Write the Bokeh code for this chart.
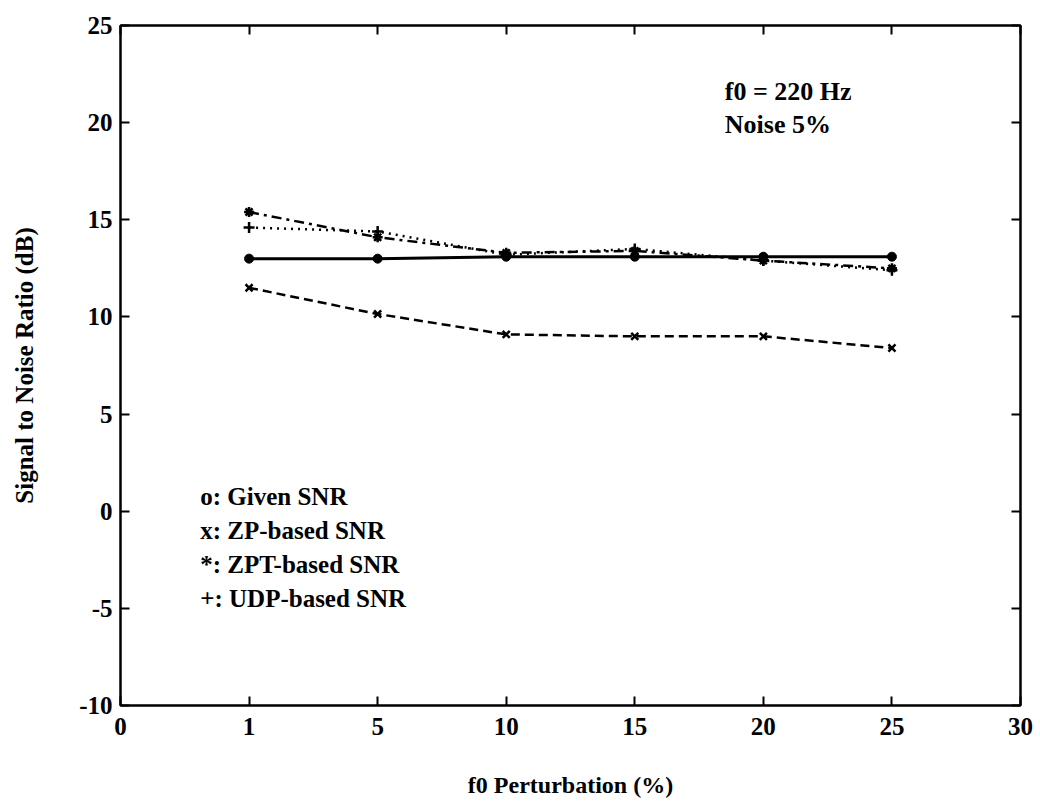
from bokeh.plotting import figure
from bokeh.models import Range1d, FixedTicker, LinearAxis, Label
from bokeh.embed import file_html
from bokeh.resources import INLINE

# ---- data ----
x_tick_labels = ["0", "1", "5", "10", "15", "20", "25", "30"]
y_ticks = [-10, -5, 0, 5, 10, 15, 20, 25]
y_tick_labels = ["-10", "-5", "0", "5", "10", "15", "20", "25"]
perturbation = ["1", "5", "10", "15", "20", "25"]
given_snr = [13.0, 13.0, 13.1, 13.1, 13.1, 13.1]
zp_snr = [11.5, 10.15, 9.1, 9.0, 9.0, 8.4]
zpt_snr = [15.4, 14.1, 13.3, 13.4, 12.9, 12.5]
udp_snr = [14.6, 14.4, 13.2, 13.5, 12.9, 12.4]
legend_lines = ["o: Given SNR", "x: ZP-based SNR", "*: ZPT-based SNR", "+: UDP-based SNR"]
annotation_lines = ["f0 = 220 Hz", "Noise 5%"]
x_title = "f0 Perturbation (%)"
y_title = "Signal to Noise Ratio (dB)"

FONT = "Liberation Serif"

x_pos = [x_tick_labels.index(c) for c in perturbation]

p = figure(width=1040, height=804,
           x_range=Range1d(0, len(x_tick_labels) - 1), y_range=Range1d(-10, 25),
           output_backend="svg", toolbar_location=None,
           min_border_left=120, min_border_right=20, min_border_top=25, min_border_bottom=99)
p.background_fill_color = "white"
p.border_fill_color = "white"
p.outline_line_color = "black"
p.outline_line_width = 2
p.xgrid.visible = False
p.ygrid.visible = False

xt = FixedTicker(ticks=list(range(len(x_tick_labels))))
yt = FixedTicker(ticks=y_ticks)


def style_axis(ax, title_size="24px"):
    ax.axis_line_width = 2
    ax.axis_line_color = "black"
    ax.major_tick_in = 9
    ax.major_tick_out = 0
    ax.major_tick_line_width = 2
    ax.minor_tick_in = 0
    ax.minor_tick_out = 0
    ax.major_label_text_font = FONT
    ax.major_label_text_font_size = "25px"
    ax.major_label_text_font_style = "bold"
    ax.major_label_text_color = "black"
    ax.axis_label_text_font = FONT
    ax.axis_label_text_font_size = title_size
    ax.axis_label_text_font_style = "bold"
    ax.axis_label_text_color = "black"


xa = p.xaxis[0]
xa.ticker = xt
xa.major_label_overrides = {i: lab for i, lab in enumerate(x_tick_labels)}
xa.axis_label = x_title
style_axis(xa, "24px")
xa.major_label_standoff = 12
xa.axis_label_standoff = 34

ya = p.yaxis[0]
ya.ticker = yt
ya.major_label_overrides = {t: lab for t, lab in zip(y_ticks, y_tick_labels)}
ya.axis_label = y_title
style_axis(ya, "25px")
ya.major_label_standoff = 8
ya.axis_label_standoff = 38

top = LinearAxis(ticker=xt, major_label_overrides={i: "" for i in range(len(x_tick_labels))})
style_axis(top)
p.add_layout(top, "above")
right = LinearAxis(ticker=yt, major_label_overrides={t: "" for t in y_ticks})
style_axis(right)
p.add_layout(right, "right")

# ---- series ----
p.line(x_pos, given_snr, line_color="black", line_width=3)
p.scatter(x_pos, given_snr, marker="circle", size=9, fill_color="black", line_color="black")

p.line(x_pos, zp_snr, line_color="black", line_width=2.5, line_dash="9 5")
p.scatter(x_pos, zp_snr, marker="x", size=10, line_color="black", line_width=2.5)

p.line(x_pos, zpt_snr, line_color="black", line_width=2.5, line_dash="10 5 3 5")
p.scatter(x_pos, zpt_snr, marker="asterisk", size=10, line_color="black", line_width=2.5)

p.line(x_pos, udp_snr, line_color="black", line_width=2.5, line_dash="2 5")
p.scatter(x_pos, udp_snr, marker="cross", size=11, line_color="black", line_width=2.5)

# ---- in-plot texts ----
legend_x = 0.62
legend_y0 = 0.75
legend_dy = 1.75
for i, t in enumerate(legend_lines):
    p.add_layout(Label(x=legend_x, y=legend_y0 - i * legend_dy, text=t,
                       text_font=FONT, text_font_size="25px", text_font_style="bold",
                       text_color="black", text_baseline="middle", text_align="left"))

ann_x = 4.7
ann_y0 = 21.6
ann_dy = 1.7
for i, t in enumerate(annotation_lines):
    p.add_layout(Label(x=ann_x, y=ann_y0 - i * ann_dy, text=t,
                       text_font=FONT, text_font_size="26px", text_font_style="bold",
                       text_color="black", text_baseline="middle", text_align="left"))

open("out.html", "w").write(file_html(p, INLINE))
